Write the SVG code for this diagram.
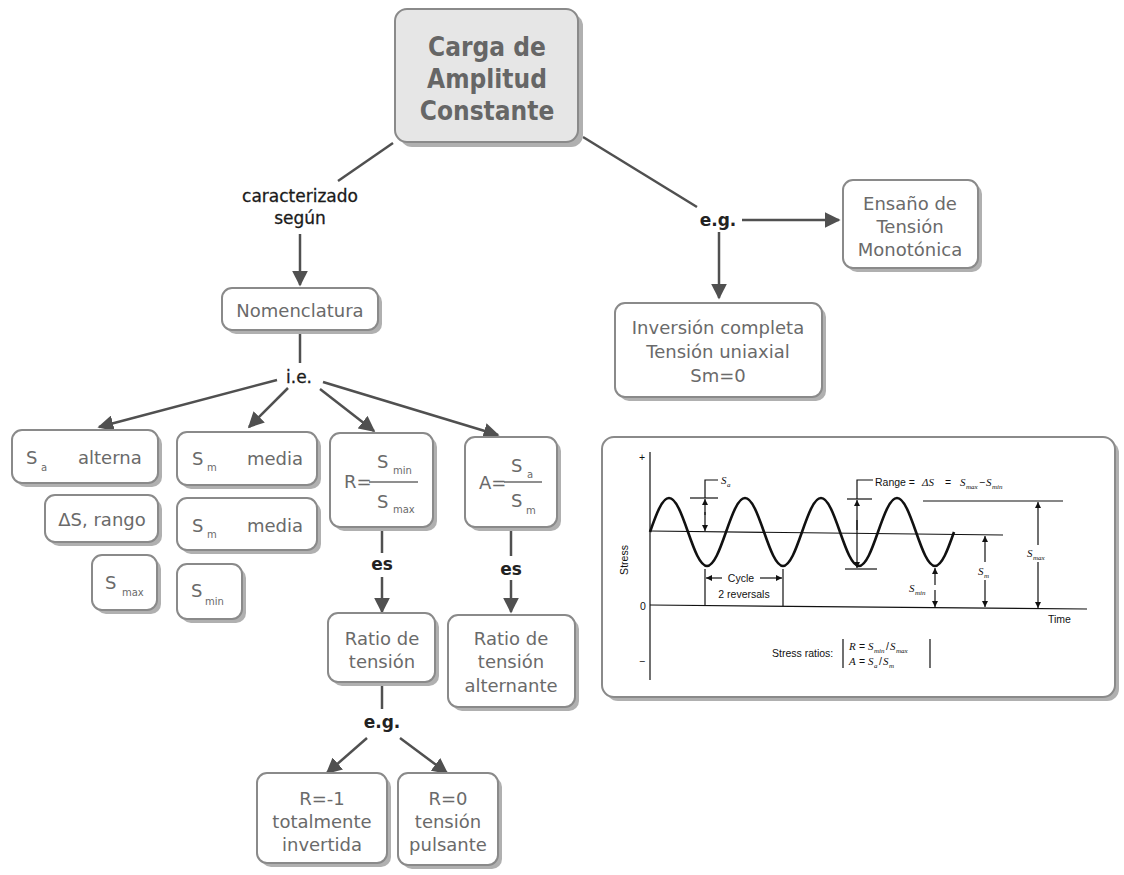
<svg xmlns="http://www.w3.org/2000/svg" width="1124" height="875" viewBox="0 0 1124 875">
<defs>
<marker id="ah" viewBox="0 0 10 10" refX="9" refY="5" markerWidth="16" markerHeight="16" markerUnits="userSpaceOnUse" orient="auto"><path d="M0,0 L10,5 L0,10 z" fill="#505050"/></marker>
<marker id="sa" viewBox="0 0 10 10" refX="10" refY="5" markerWidth="7" markerHeight="6" markerUnits="userSpaceOnUse" orient="auto"><path d="M0,0 L10,5 L0,10 z" fill="#111"/></marker>
</defs>
<style>
.sh{fill:#b0b0b0}
.bx{fill:#fff;stroke:#8a8a8a;stroke-width:2}
.mbx{fill:#e6e6e6;stroke:#8a8a8a;stroke-width:2}
.t{font-family:"DejaVu Sans",sans-serif;font-size:18px;fill:#6a6a6a;text-anchor:middle}
.ts{font-family:"DejaVu Sans",sans-serif;font-size:18px;fill:#6a6a6a}
.sub{font-family:"DejaVu Sans",sans-serif;font-size:10px;fill:#6a6a6a}
.mt{font-family:"DejaVu Sans Condensed","DejaVu Sans",sans-serif;font-size:26px;font-weight:bold;fill:#666;text-anchor:middle}
.lb{font-family:"DejaVu Sans",sans-serif;font-size:17px;fill:#1a1a1a;text-anchor:middle;stroke:#1a1a1a;stroke-width:0.3}
.lbb{font-family:"DejaVu Sans",sans-serif;font-size:17px;font-weight:bold;fill:#222;text-anchor:middle}
.c{stroke:#505050;stroke-width:2.5;fill:none}
.ca{stroke:#505050;stroke-width:2.5;fill:none;marker-end:url(#ah)}
.g{stroke:#111;stroke-width:1.2;fill:none}
.ga{stroke:#111;stroke-width:1.2;fill:none;marker-end:url(#sa)}
.gw{stroke:#111;stroke-width:2.6;fill:none}
.gt{font-family:"Liberation Sans",sans-serif;font-size:10.5px;fill:#111}
.gi{font-family:"Liberation Serif",serif;font-size:11px;font-style:italic;fill:#111}
.gs{font-family:"Liberation Serif",serif;font-size:7px;font-style:italic;fill:#111}
</style>
<rect width="1124" height="875" fill="#fff"/>

<g id="connectors">
<line class="c" x1="393" y1="143" x2="338" y2="181"/>
<line class="ca" x1="300" y1="234" x2="300" y2="285"/>
<line class="c" x1="583" y1="137" x2="697" y2="207"/>
<line class="ca" x1="742" y1="220" x2="839" y2="220"/>
<line class="ca" x1="719" y1="232" x2="719" y2="298"/>
<line class="c" x1="300" y1="331" x2="300" y2="363"/>
<line class="ca" x1="277" y1="380" x2="99" y2="427"/>
<line class="ca" x1="288" y1="388" x2="249" y2="427"/>
<line class="ca" x1="320" y1="389" x2="374" y2="431"/>
<line class="ca" x1="323" y1="382" x2="498" y2="435"/>
<line class="c" x1="382" y1="528" x2="382" y2="553"/>
<line class="ca" x1="382" y1="577" x2="382" y2="612"/>
<line class="c" x1="511" y1="528" x2="511" y2="556"/>
<line class="ca" x1="511" y1="580" x2="511" y2="612"/>
<line class="c" x1="382" y1="683" x2="382" y2="709"/>
<line class="ca" x1="367" y1="738" x2="327" y2="773"/>
<line class="ca" x1="400" y1="738" x2="447" y2="773"/>
<text class="lb" x="300" y="202">caracterizado</text>
<text class="lb" x="300" y="224">según</text>
<text class="lbb" x="718" y="226">e.g.</text>
<text class="lb" x="299" y="383">i.e.</text>
<text class="lbb" x="382" y="570">es</text>
<text class="lbb" x="511" y="575">es</text>
<text class="lbb" x="382" y="728">e.g.</text>
</g>

<g id="n-main">
<rect class="sh" x="400" y="14" width="183" height="133" rx="12"/>
<rect class="mbx" x="395" y="9" width="183" height="133" rx="12"/>
<text class="mt" x="487" y="56">Carga de</text>
<text class="mt" x="487" y="88">Amplitud</text>
<text class="mt" x="487" y="120">Constante</text>
</g>

<g id="n-nomenclatura">
<rect class="sh" x="226" y="292" width="156" height="42" rx="10"/>
<rect class="bx" x="222" y="288" width="156" height="42" rx="10"/>
<text class="t" x="300" y="317">Nomenclatura</text>
</g>

<g id="n-ensayo">
<rect class="sh" x="847" y="184" width="135" height="88" rx="10"/>
<rect class="bx" x="843" y="180" width="135" height="88" rx="10"/>
<text class="t" x="910" y="210">Ensaño de</text>
<text class="t" x="910" y="233">Tensión</text>
<text class="t" x="910" y="256">Monotónica</text>
</g>

<g id="n-inversion">
<rect class="sh" x="619" y="307" width="207" height="94" rx="10"/>
<rect class="bx" x="615" y="303" width="207" height="94" rx="10"/>
<text class="t" x="718" y="334">Inversión completa</text>
<text class="t" x="718" y="358">Tensión uniaxial</text>
<text class="t" x="718" y="382">Sm=0</text>
</g>

<g id="n-sa">
<rect class="sh" x="16" y="434" width="146" height="53" rx="10"/>
<rect class="bx" x="12" y="430" width="146" height="53" rx="10"/>
<text class="ts" x="26" y="464">S</text>
<text class="sub" x="41" y="471">a</text>
<text class="ts" x="78" y="464">alterna</text>
</g>

<g id="n-rango">
<rect class="sh" x="49" y="499" width="113" height="47" rx="10"/>
<rect class="bx" x="45" y="495" width="113" height="47" rx="10"/>
<text class="t" x="102" y="526">ΔS, rango</text>
</g>

<g id="n-smax">
<rect class="sh" x="96" y="559" width="65" height="55" rx="10"/>
<rect class="bx" x="92" y="555" width="65" height="55" rx="10"/>
<text class="ts" x="105" y="589">S</text>
<text class="sub" x="122" y="596">max</text>
</g>

<g id="n-sm1">
<rect class="sh" x="181" y="436" width="140" height="53" rx="10"/>
<rect class="bx" x="177" y="432" width="140" height="53" rx="10"/>
<text class="ts" x="192" y="465">S</text>
<text class="sub" x="207" y="471">m</text>
<text class="ts" x="247" y="465">media</text>
</g>

<g id="n-sm2">
<rect class="sh" x="181" y="502" width="140" height="52" rx="10"/>
<rect class="bx" x="177" y="498" width="140" height="52" rx="10"/>
<text class="ts" x="192" y="532">S</text>
<text class="sub" x="207" y="538">m</text>
<text class="ts" x="247" y="532">media</text>
</g>

<g id="n-smin">
<rect class="sh" x="181" y="568" width="65" height="55" rx="10"/>
<rect class="bx" x="177" y="564" width="65" height="55" rx="10"/>
<text class="ts" x="191" y="597">S</text>
<text class="sub" x="205" y="605">min</text>
</g>

<g id="n-r">
<rect class="sh" x="334" y="437" width="103" height="94" rx="10"/>
<rect class="bx" x="330" y="433" width="103" height="94" rx="10"/>
<text class="ts" x="344" y="488">R=</text>
<line x1="369" y1="482" x2="418" y2="482" stroke="#6a6a6a" stroke-width="1.5"/>
<text class="ts" x="377" y="468">S</text>
<text class="sub" x="393" y="474">min</text>
<text class="ts" x="377" y="508">S</text>
<text class="sub" x="393" y="513">max</text>
</g>

<g id="n-a">
<rect class="sh" x="469" y="441" width="92" height="90" rx="10"/>
<rect class="bx" x="465" y="437" width="92" height="90" rx="10"/>
<text class="ts" x="479" y="489">A=</text>
<line x1="504" y1="482" x2="542" y2="482" stroke="#6a6a6a" stroke-width="1.5"/>
<text class="ts" x="511" y="472">S</text>
<text class="sub" x="527" y="478">a</text>
<text class="ts" x="511" y="507">S</text>
<text class="sub" x="526" y="514">m</text>
</g>

<g id="n-ratio">
<rect class="sh" x="332" y="617" width="107" height="69" rx="10"/>
<rect class="bx" x="328" y="613" width="107" height="69" rx="10"/>
<text class="t" x="382" y="645">Ratio de</text>
<text class="t" x="382" y="668">tensión</text>
</g>

<g id="n-ratio-alt">
<rect class="sh" x="452" y="619" width="127" height="92" rx="10"/>
<rect class="bx" x="448" y="615" width="127" height="92" rx="10"/>
<text class="t" x="511" y="645">Ratio de</text>
<text class="t" x="511" y="668">tensión</text>
<text class="t" x="511" y="692">alternante</text>
</g>

<g id="n-r-1">
<rect class="sh" x="261" y="777" width="130" height="90" rx="10"/>
<rect class="bx" x="257" y="773" width="130" height="90" rx="10"/>
<text class="t" x="322" y="805">R=-1</text>
<text class="t" x="322" y="828">totalmente</text>
<text class="t" x="322" y="851">invertida</text>
</g>

<g id="n-r0">
<rect class="sh" x="402" y="777" width="100" height="92" rx="10"/>
<rect class="bx" x="398" y="773" width="100" height="92" rx="10"/>
<text class="t" x="448" y="805">R=0</text>
<text class="t" x="448" y="828">tensión</text>
<text class="t" x="448" y="851">pulsante</text>
</g>

<g id="n-graph">
<rect class="sh" x="606" y="441" width="513" height="260" rx="12"/>
<rect class="bx" x="602" y="437" width="513" height="260" rx="12"/>
<line class="g" x1="650" y1="452" x2="650" y2="680"/>
<text class="gt" x="642" y="461" text-anchor="middle">+</text>
<text class="gt" x="643" y="610" text-anchor="middle">0</text>
<text class="gt" x="642" y="665" text-anchor="middle">−</text>
<text class="gt" transform="translate(628,560) rotate(-90)" text-anchor="middle">Stress</text>
<line class="g" x1="650" y1="605" x2="1087" y2="609"/>
<line class="g" x1="650" y1="531" x2="1003" y2="535"/>
<path class="gw" d="M650,532 C656.35,513.9 662.16,498 669,498 S681.65,513.9 688,532 S700.16,566 707,566 S719.65,550.1 726,532 S738.16,498 745,498 S757.65,513.9 764,532 S776.16,566 783,566 S795.65,550.1 802,532 S814.16,498 821,498 S833.65,513.9 840,532 S852.16,566 859,566 S871.65,550.1 878,532 S890.16,498 897,498 S909.65,513.9 916,532 S928.16,566 935,566 S947.65,550.1 954,532"/>
<line class="g" x1="690" y1="498" x2="718" y2="498"/>
<polyline class="g" points="718,480 705,480 705,498"/>
<line class="ga" x1="705" y1="515" x2="705" y2="499"/>
<line class="ga" x1="705" y1="512" x2="705" y2="531"/>
<text class="gi" x="721" y="484">S</text><text class="gs" x="727" y="487">a</text>
<line class="g" x1="705" y1="569" x2="705" y2="605"/>
<line class="g" x1="783" y1="569" x2="783" y2="606"/>
<line class="ga" x1="722" y1="578" x2="706" y2="578"/>
<line class="ga" x1="760" y1="578" x2="782" y2="578"/>
<text class="gt" x="741" y="582" text-anchor="middle">Cycle</text>
<text class="gt" x="744" y="598" text-anchor="middle">2 reversals</text>
<line class="g" x1="847" y1="499" x2="872" y2="499"/>
<line class="g" x1="845" y1="569" x2="877" y2="569"/>
<polyline class="g" points="873,480 857,480 857,499"/>
<line class="ga" x1="857" y1="530" x2="857" y2="500"/>
<line class="ga" x1="857" y1="520" x2="857" y2="568"/>
<text class="gt" x="875" y="486">Range =</text>
<text class="gi" x="922" y="486">ΔS</text>
<text class="gt" x="945" y="486">=</text>
<text class="gi" x="960" y="486">S</text><text class="gs" x="966" y="489">max</text>
<text class="gt" x="979" y="486">−</text>
<text class="gi" x="986" y="486">S</text><text class="gs" x="992" y="489">min</text>
<line class="g" x1="923" y1="501" x2="1063" y2="501"/>
<line class="ga" x1="1038" y1="545" x2="1038" y2="502"/>
<line class="ga" x1="1038" y1="562" x2="1038" y2="608"/>
<text class="gi" x="1027" y="557">S</text><text class="gs" x="1033" y="560">max</text>
<line class="ga" x1="985" y1="562" x2="985" y2="536"/>
<line class="ga" x1="985" y1="580" x2="985" y2="607"/>
<text class="gi" x="978" y="575">S</text><text class="gs" x="984" y="578">m</text>
<line class="ga" x1="935" y1="585" x2="935" y2="568"/>
<line class="ga" x1="935" y1="590" x2="935" y2="607"/>
<text class="gi" x="909" y="592">S</text><text class="gs" x="915" y="595">min</text>
<text class="gt" x="1048" y="623">Time</text>
<text class="gt" x="772" y="657">Stress ratios:</text>
<line class="g" x1="843" y1="639" x2="843" y2="668"/>
<line class="g" x1="930" y1="639" x2="930" y2="668"/>
<text class="gi" x="849" y="650">R</text><text class="gt" x="859" y="650">=</text>
<text class="gi" x="868" y="650">S</text><text class="gs" x="874" y="653">min</text>
<text class="gt" x="886" y="650">/</text>
<text class="gi" x="890" y="650">S</text><text class="gs" x="896" y="653">max</text>
<text class="gi" x="849" y="665">A</text><text class="gt" x="859" y="665">=</text>
<text class="gi" x="868" y="665">S</text><text class="gs" x="874" y="668">a</text>
<text class="gt" x="879" y="665">/</text>
<text class="gi" x="883" y="665">S</text><text class="gs" x="889" y="668">m</text>
</g>
</svg>
